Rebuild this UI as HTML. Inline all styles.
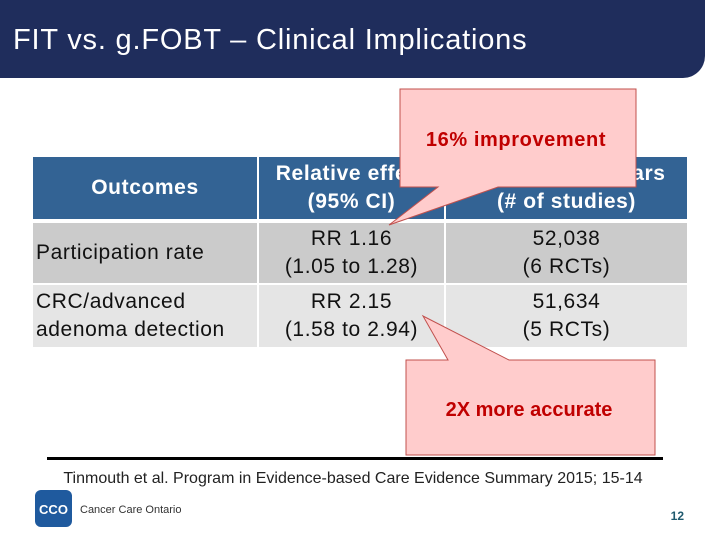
<!DOCTYPE html>
<html><head><meta charset="utf-8"><style>
body{margin:0;width:720px;height:540px;background:#fff;position:relative;overflow:hidden;font-family:"Liberation Sans",sans-serif}
.title{position:absolute;left:0;top:0;width:705px;height:78px;background:#1f2d5c;border-bottom-right-radius:22px;color:#fff;font-size:29px;letter-spacing:0.8px;line-height:80px;padding-left:13px;box-sizing:border-box}
.c{position:absolute;display:flex;align-items:center;justify-content:center;text-align:center;font-size:21px;letter-spacing:0.6px;line-height:28px;color:#111}
.h{background:#336394;color:#fff;font-weight:bold}
.r1{background:#cbcbcb}.r2{background:#e5e5e5}
.l{justify-content:flex-start;text-align:left;padding-left:3px;box-sizing:border-box}
svg{position:absolute;left:0;top:0}
</style></head><body>
<div class="title">FIT vs. g.FOBT – Clinical Implications</div>
<div>
<div class="c h" style="left:33px;top:157px;width:224px;height:62px">Outcomes</div>
<div class="c h" style="left:259px;top:157px;width:185px;height:62px">Relative effect<br>(95% CI)</div>
<div class="c h" style="left:446px;top:157px;width:241px;height:62px">Participants, years<br>(# of studies)</div>
<div class="c r1 l" style="left:33px;top:223px;width:224px;height:60px">Participation rate</div>
<div class="c r1" style="left:259px;top:223px;width:185px;height:60px">RR 1.16<br>(1.05 to 1.28)</div>
<div class="c r1" style="left:446px;top:223px;width:241px;height:60px">52,038<br>(6 RCTs)</div>
<div class="c r2 l" style="left:33px;top:285px;width:224px;height:62px">CRC/advanced<br>adenoma detection</div>
<div class="c r2" style="left:259px;top:285px;width:185px;height:62px">RR 2.15<br>(1.58 to 2.94)</div>
<div class="c r2" style="left:446px;top:285px;width:241px;height:62px">51,634<br>(5 RCTs)</div>
</div>
<svg width="720" height="540">
<path d="M400,89 H636 V187 H498 L389,225 L438,187 H400 Z" fill="#ffcccc" stroke="#c0504d" stroke-width="1"/>
<text x="516" y="146" text-anchor="middle" font-size="20" font-weight="bold" letter-spacing="0.6" fill="#c00000" font-family="Liberation Sans,sans-serif">16% improvement</text>
<path d="M406,360 H448 L423,316 L509,360 H655 V455 H406 Z" fill="#ffcccc" stroke="#c0504d" stroke-width="1"/>
<text x="529" y="416" text-anchor="middle" font-size="20" font-weight="bold" fill="#c00000" font-family="Liberation Sans,sans-serif">2X more accurate</text>
<rect x="47" y="457" width="616" height="3" fill="#000"/>
<text x="353" y="483" text-anchor="middle" font-size="16" fill="#222" font-family="Liberation Sans,sans-serif">Tinmouth et al. Program in Evidence-based Care Evidence Summary 2015; 15-14</text>
<rect x="35" y="490" width="37" height="37" rx="6" fill="#1f5a9e"/>
<text x="53.5" y="514" text-anchor="middle" font-size="13" font-weight="bold" fill="#fff" font-family="Liberation Sans,sans-serif">CCO</text>
<text x="80" y="513" font-size="11" fill="#333" font-family="Liberation Sans,sans-serif">Cancer Care Ontario</text>
<text x="684" y="520" text-anchor="end" font-size="12" font-weight="bold" fill="#1f5a6e" font-family="Liberation Sans,sans-serif">12</text>
</svg>
</body></html>
